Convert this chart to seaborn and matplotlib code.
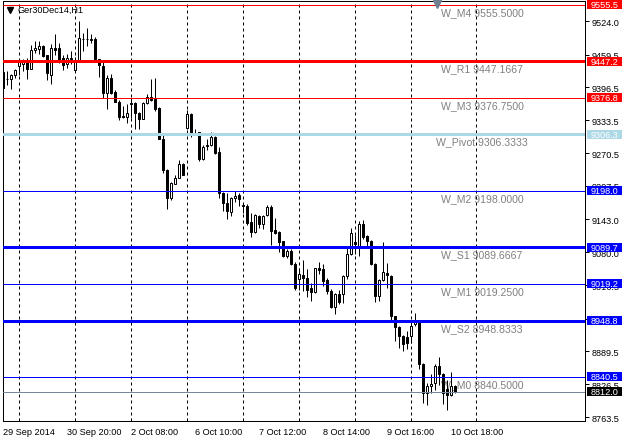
import matplotlib
matplotlib.use("Agg")
import matplotlib.pyplot as plt
import matplotlib.transforms as mtransforms
from matplotlib.patches import Rectangle
from matplotlib.lines import Line2D
import numpy as np
import pandas as pd
import seaborn as sns

# Ger30Dec14, H1 candles
opens = [9425.8, 9413.6, 9413.0, 9419.4, 9436.8, 9441.9, 9447.7, 9432.3, 9468.9, 9470.8,
         9475.3, 9458.0, 9420.7, 9472.1, 9472.1, 9452.8, 9441.9, 9450.9, 9430.3, 9448.3,
         9490.1, 9488.8, 9490.1, 9490.1, 9450.3, 9436.8, 9385.3, 9415.5, 9387.3, 9369.3,
         9341.0, 9339.0, 9367.3, 9366.0, 9346.8, 9335.8, 9367.3, 9378.3, 9374.4, 9356.4,
         9297.2, 9237.7, 9185.0, 9211.0, 9223.1, 9250.4, 9318.3, 9345.6, 9309.4, 9310.7,
         9258.6, 9285.9, 9285.3, 9301.2, 9272.6, 9194.5, 9174.2, 9157.0, 9184.9, 9190.0,
         9171.0, 9169.7, 9138.0, 9118.3, 9148.8, 9134.2, 9150.7, 9167.8, 9122.1, 9118.3,
         9101.1, 9072.6, 9082.1, 9058.0, 9028.1, 9036.4, 9031.3, 9011.0, 9004.0, 9049.1,
         9047.2, 9026.2, 9005.4, 8974.7, 9000.0, 8999.0, 9034.4, 9075.8, 9099.4, 9089.9,
         9134.5, 9110.9, 9101.4, 9058.0, 8996.0, 9026.0, 9040.0, 9035.0, 8957.8, 8936.7,
         8919.4, 8918.0, 8919.4, 8941.8, 8946.9, 8865.0, 8810.6, 8823.4, 8829.8, 8861.8,
         8845.8, 8817.0, 8806.1, 8823.4]
highs = [9427.1, 9427.1, 9422.0, 9432.3, 9449.6, 9450.3, 9452.8, 9478.6, 9486.3, 9486.3,
         9477.3, 9459.3, 9479.8, 9499.1, 9481.8, 9458.0, 9460.6, 9465.7, 9454.1, 9523.6,
         9501.1, 9510.7, 9499.1, 9493.3, 9451.6, 9449.6, 9420.7, 9422.0, 9391.8, 9372.5,
         9361.5, 9364.1, 9375.7, 9368.0, 9348.7, 9369.3, 9383.4, 9413.0, 9415.5, 9359.6,
         9308.2, 9239.6, 9215.4, 9228.2, 9256.7, 9252.3, 9353.9, 9347.5, 9315.8, 9311.3,
         9285.3, 9296.7, 9310.7, 9303.1, 9282.1, 9196.4, 9194.5, 9186.9, 9197.7, 9193.2,
         9173.5, 9172.3, 9155.1, 9153.2, 9151.9, 9151.9, 9171.0, 9171.0, 9145.6, 9120.2,
         9102.4, 9085.3, 9085.3, 9061.8, 9050.3, 9064.3, 9047.2, 9021.8, 9050.3, 9061.8,
         9056.7, 9031.3, 9008.6, 9002.2, 9008.0, 9036.0, 9088.6, 9126.9, 9112.8, 9140.9,
         9142.8, 9112.8, 9102.6, 9060.0, 9028.0, 9099.0, 9060.0, 9037.0, 8958.0, 8938.6,
         8921.3, 8928.0, 8948.0, 8964.2, 8948.2, 8868.2, 8829.8, 8847.1, 8865.0, 8879.0,
         8849.0, 8834.3, 8850.9, 8825.3]
lows = [9395.0, 9401.4, 9393.7, 9415.5, 9420.7, 9428.4, 9413.0, 9431.0, 9462.5, 9460.6,
        9455.4, 9411.0, 9403.3, 9459.3, 9443.2, 9430.3, 9433.5, 9441.9, 9428.4, 9446.4,
        9467.0, 9475.3, 9481.8, 9450.9, 9416.2, 9375.7, 9355.1, 9383.4, 9368.0, 9333.9,
        9337.1, 9327.5, 9337.1, 9316.5, 9316.5, 9335.0, 9364.1, 9370.5, 9351.9, 9296.5,
        9232.9, 9163.4, 9180.5, 9210.4, 9221.8, 9227.5, 9315.8, 9301.2, 9305.6, 9255.5,
        9256.7, 9275.8, 9284.0, 9269.4, 9183.7, 9158.3, 9144.3, 9148.8, 9176.1, 9169.7,
        9155.1, 9132.9, 9108.8, 9117.0, 9126.6, 9125.3, 9148.8, 9093.5, 9115.1, 9080.8,
        9070.7, 9069.4, 9055.4, 9007.2, 9007.2, 9005.9, 8994.5, 8986.8, 9002.7, 9037.7,
        9015.4, 8999.6, 8972.1, 8960.6, 8980.0, 8983.0, 9028.0, 9074.6, 9075.8, 9072.6,
        9104.6, 9089.9, 9055.0, 8985.0, 8986.0, 9024.0, 9012.0, 8946.0, 8909.8, 8897.0,
        8890.6, 8895.0, 8906.6, 8938.6, 8855.4, 8791.4, 8786.9, 8810.6, 8815.0, 8825.3,
        8788.2, 8776.7, 8804.2, 8810.6]
closes = [9396.3, 9411.7, 9419.4, 9429.0, 9446.4, 9446.4, 9432.3, 9468.9, 9472.1, 9475.3,
          9456.1, 9423.9, 9472.1, 9468.9, 9447.7, 9440.0, 9452.8, 9452.2, 9449.6, 9491.4,
          9488.8, 9490.1, 9488.2, 9451.6, 9438.7, 9385.3, 9415.5, 9385.3, 9369.3, 9339.0,
          9339.7, 9348.0, 9364.7, 9346.8, 9335.8, 9367.3, 9378.9, 9373.1, 9355.1, 9297.2,
          9237.4, 9183.7, 9213.5, 9223.1, 9249.7, 9228.2, 9345.6, 9307.5, 9308.2, 9258.6,
          9282.1, 9284.0, 9301.2, 9271.3, 9194.5, 9175.4, 9158.3, 9184.9, 9188.8, 9182.4,
          9169.1, 9136.1, 9118.9, 9150.7, 9134.2, 9148.8, 9167.8, 9121.5, 9117.0, 9099.9,
          9072.6, 9082.1, 9056.7, 9011.0, 9037.7, 9030.0, 9007.2, 9004.0, 9049.1, 9045.3,
          9025.0, 9005.9, 8974.7, 9000.3, 8985.0, 9034.0, 9075.8, 9117.3, 9095.0, 9134.5,
          9109.0, 9101.4, 9056.7, 8996.0, 9026.0, 9042.7, 9036.3, 8957.5, 8936.7, 8919.4,
          8903.4, 8905.0, 8938.6, 8948.2, 8865.0, 8810.6, 8823.4, 8827.9, 8861.8, 8845.8,
          8810.6, 8806.1, 8823.4, 8812.0]

time_labels = ["29 Sep 2014", "30 Sep 20:00", "2 Oct 08:00", "6 Oct 10:00",
               "7 Oct 12:00", "8 Oct 14:00", "9 Oct 16:00", "10 Oct 18:00"]
price_ticks = [9524.0, 9459.5, 9396.5, 9333.5, 9270.5, 9207.5, 9143.0,
               9080.0, 9016.5, 8952.5, 8889.5, 8826.5, 8763.5]

# weekly pivot levels
level_names = ["W_M4", "W_R1", "W_M3", "W_Pivot", "W_M2", "W_S1", "W_M1", "W_S2", "W_M0"]
level_values = [9555.5, 9447.1667, 9376.75, 9306.3333, 9198.0, 9089.6667,
                9019.25, 8948.8333, 8840.5]
bid_price = 8812.0

# styling
level_colors = ["#ff0000", "#ff0000", "#ff0000", "#add8e6", "#0000ff",
                "#0000ff", "#0000ff", "#0000ff", "#0000ff"]
level_px = [1, 3, 1, 3, 1, 3, 1, 3, 1]
PX = 0.72  # one pixel in points at 100 dpi

sns.set_style("white")
plt.rcParams['font.family'] = ['Liberation Sans', 'DejaVu Sans']

df = pd.DataFrame({"open": opens, "high": highs, "low": lows, "close": closes})
df["bar"] = np.arange(len(df))
df["bull"] = df["close"] >= df["open"]

fig = plt.figure(figsize=(6.25, 4.39), dpi=100)
ax = fig.add_axes([3 / 625, 17 / 439, 582 / 625, 420 / 439])
ax.set_xlim(0, 145.5)
ax.set_ylim(8756.0, 9562.4)

# vertical dashed grid
for gx in [4, 18, 32, 46, 60, 74, 88, 102, 118.25]:
    ax.axvline(gx, color="black", lw=PX, ls=(0, (3, 3)), zorder=1)

# candles
ax.vlines(df["bar"], df["low"], df["high"], color="black", lw=PX, zorder=3)
body_lo = df[["open", "close"]].min(axis=1)
body_h = (df["close"] - df["open"]).abs()
ax.bar(df["bar"], body_h, bottom=body_lo, width=0.5,
       color=np.where(df["bull"], "white", "black"),
       edgecolor="black", linewidth=PX, zorder=4)

# levels
blend = mtransforms.blended_transform_factory(ax.transAxes, ax.transData)
box_h = 9 * 1.92
for name, val, col, lw in zip(level_names, level_values, level_colors, level_px):
    ax.axhline(val, color=col, lw=lw * PX, zorder=5)
    ax.annotate(f"{name} {val:.4f}", xy=(119.75, val), xytext=(0, -5.2),
                textcoords="offset points", ha="center", va="center",
                color="#808080", fontsize=7.6, zorder=2)
    ax.add_patch(Rectangle((1.0034, val - box_h / 2), 0.0601, box_h, transform=blend,
                           facecolor=col, edgecolor="none", clip_on=False, zorder=6))
    ax.text(1.0335, val, f"{val:.1f}", transform=blend, ha="center", va="center",
            color="white", fontsize=6.6, zorder=7, clip_on=False)

ax.axhline(bid_price, color="#778899", lw=PX, zorder=5)
ax.add_patch(Rectangle((1.0034, bid_price - box_h / 2), 0.0601, box_h, transform=blend,
                       facecolor="black", edgecolor="none", clip_on=False, zorder=6))
ax.text(1.0335, bid_price, f"{bid_price:.1f}", transform=blend, ha="center",
        va="center", color="white", fontsize=6.6, zorder=7, clip_on=False)

# axes look
for sp in ax.spines.values():
    sp.set_color("black")
    sp.set_linewidth(PX)
ax.yaxis.tick_right()
ax.set_yticks(price_ticks)
ax.set_yticklabels([f"{p:.1f}" for p in price_ticks])
ax.set_xticks(np.arange(len(time_labels)) * 16)
ax.set_xticklabels(time_labels)
for lbl in ax.get_xticklabels():
    lbl.set_ha("left")
ax.tick_params(axis="both", direction="out", length=3, width=PX,
               labelsize=6.6, color="black", labelcolor="black")
ax.tick_params(axis="y", pad=1.5)
ax.tick_params(axis="x", pad=1.5)

# chart title and markers
fig.add_artist(Line2D([10 / 625], [1 - 10.7 / 439], marker="v", ms=4.2,
                      color="black", transform=fig.transFigure))
fig.text(18 / 625, 1 - 10.7 / 439, "Ger30Dec14,H1", fontsize=6.6,
         ha="left", va="center", color="black")
fig.add_artist(Line2D([437 / 625], [1 - 4.5 / 439], marker="v", ms=5.5,
                      color="#708090", transform=fig.transFigure))

fig.savefig("out.png", dpi=100)
